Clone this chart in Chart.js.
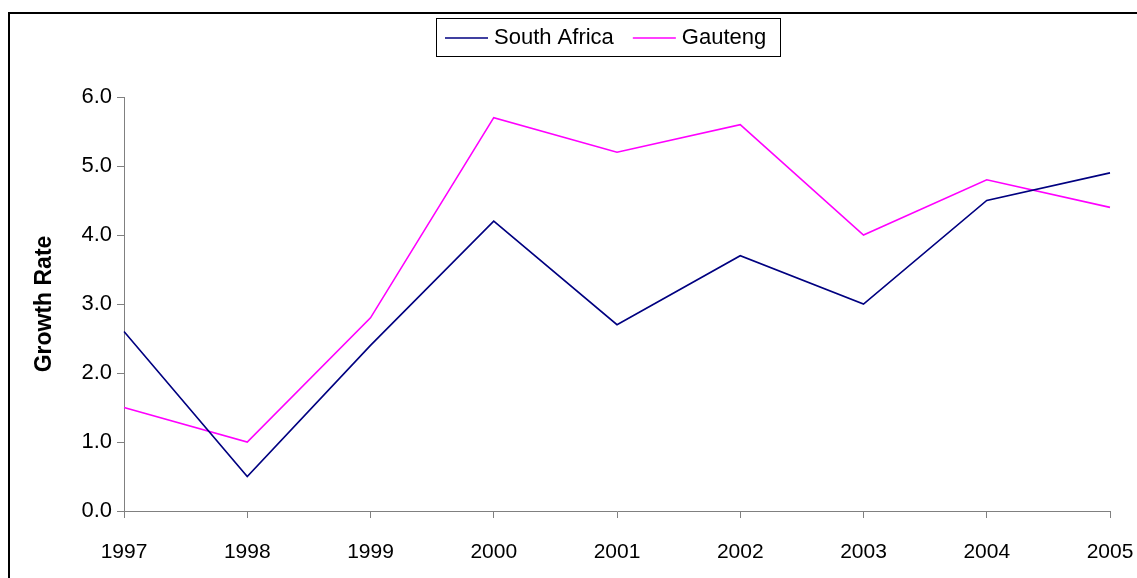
<!DOCTYPE html>
<html>
<head>
<meta charset="utf-8">
<script src="https://cdn.jsdelivr.net/npm/chart.js@4/dist/chart.umd.min.js"></script>
<style>
  html, body { margin: 0; padding: 0; background: #fff; }
  #wrap { width: 1137px; height: 578px; position: relative; }
</style>
</head>
<body>
<div id="wrap"><canvas id="growthChart"></canvas></div>
<script>
const years = ['1997', '1998', '1999', '2000', '2001', '2002', '2003', '2004', '2005'];
const southAfrica = [2.6, 0.5, 2.4, 4.2, 2.7, 3.7, 3.0, 4.5, 4.9];
const gauteng = [1.5, 1.0, 2.8, 5.7, 5.2, 5.6, 4.0, 4.8, 4.4];
const yTicks = [0, 1, 2, 3, 4, 5, 6];

const FONT = 'Arial, "Liberation Sans", sans-serif';

// frame + boxed legend, drawn like the old excel export
const framePlugin = {
    id: 'frame',
    afterDraw(chart) {
        const c = chart.ctx;
        c.save();
        c.strokeStyle = '#000';
        c.lineWidth = 2;
        c.beginPath();
        c.moveTo(9, 578);
        c.lineTo(9, 13);
        c.lineTo(1137, 13);
        c.stroke();

        // legend
        const boxX = 436, boxY = 18, boxW = 344, boxH = 38;
        c.lineWidth = 1;
        c.strokeStyle = '#000';
        c.strokeRect(boxX + 0.5, boxY + 0.5, boxW, boxH);
        c.font = '22px ' + FONT;
        c.textBaseline = 'middle';
        c.fillStyle = '#000';
        let x = boxX + 9;
        const y = boxY + boxH / 2 + 1;
        chart.data.datasets.forEach(ds => {
            c.strokeStyle = ds.borderColor;
            c.lineWidth = 1.5;
            c.beginPath();
            c.moveTo(x, y);
            c.lineTo(x + 43, y);
            c.stroke();
            x += 49;
            c.fillText(ds.label, x, y);
            x += c.measureText(ds.label).width + 19;
        });
        c.restore();
    }
};

new Chart(document.getElementById('growthChart'), {
    type: 'line',
    data: {
        labels: years,
        datasets: [{
            label: 'South Africa',
            data: southAfrica,
            borderColor: '#000080',
            borderWidth: 1.6,
            pointRadius: 0,
            tension: 0
        }, {
            label: 'Gauteng',
            data: gauteng,
            borderColor: '#FF00FF',
            borderWidth: 1.6,
            pointRadius: 0,
            tension: 0
        }]
    },
    options: {
        responsive: true,
        maintainAspectRatio: false,
        animation: false,
        layout: { padding: { top: 97, right: 27, bottom: 0, left: 0 } },
        plugins: {
            legend: { display: false },
            tooltip: { enabled: false }
        },
        scales: {
            x: {
                offset: false,
                grid: { drawOnChartArea: false, tickLength: 7, color: '#808080' },
                border: { color: '#808080', width: 1 },
                ticks: { font: { family: FONT, size: 21 }, color: '#000', padding: 22, maxRotation: 0 },
                afterFit: s => {
                    s.height = 67;
                    s.paddingLeft = 0;
                    s.paddingRight = 0;
                }
            },
            y: {
                min: 0,
                max: 6,
                afterBuildTicks: s => { s.ticks = yTicks.map(v => ({ value: v })); },
                grid: { drawOnChartArea: false, tickLength: 7, color: '#808080' },
                border: { color: '#808080', width: 1 },
                ticks: {
                    font: { family: FONT, size: 22 },
                    color: '#000',
                    padding: 5,
                    callback: v => Number(v).toFixed(1)
                },
                title: {
                    display: true,
                    text: 'Growth Rate',
                    font: { family: FONT, size: 23, weight: 'bold' },
                    color: '#000',
                    padding: { top: 31, bottom: 0 }
                },
                afterFit: s => {
                    s.width = 124;
                    s.paddingTop = 0;
                    s.paddingBottom = 0;
                }
            }
        }
    },
    plugins: [framePlugin]
});
</script>
</body>
</html>
